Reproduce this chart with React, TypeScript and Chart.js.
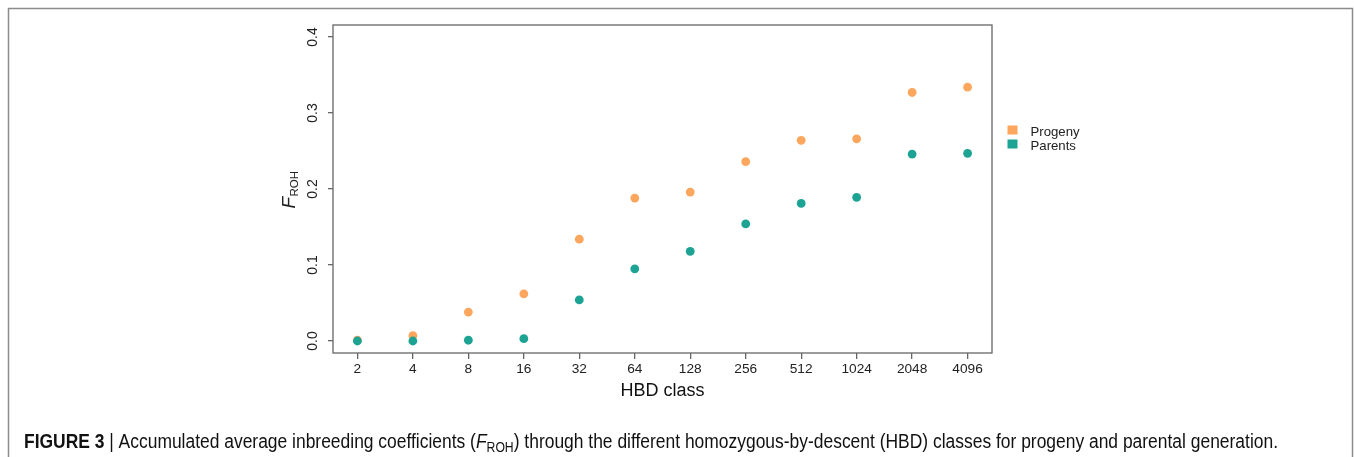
import React, { useEffect, useRef } from 'react';
import { Chart, registerables } from 'chart.js';

Chart.register(...registerables);

// ---- data ----
const hbdClasses = ['2', '4', '8', '16', '32', '64', '128', '256', '512', '1024', '2048', '4096'];
const progeny = [0.001, 0.007, 0.038, 0.062, 0.134, 0.188, 0.196, 0.236, 0.264, 0.266, 0.327, 0.334];
const parents = [0.0, 0.0, 0.001, 0.003, 0.054, 0.095, 0.118, 0.154, 0.181, 0.189, 0.246, 0.247];
const yTicks = [0, 0.1, 0.2, 0.3, 0.4];
const seriesNames = ['Progeny', 'Parents'];
const seriesColors = ['#FDA65D', '#1DA393'];
const xTitle = 'HBD class';
const captionBold = 'FIGURE 3';
const captionA = 'Accumulated average inbreeding coefficients (';
const captionB = ') through the different homozygous-by-descent (HBD) classes for progeny and parental generation.';

const W = 1354;
const H = 457;
const SANS = '"Liberation Sans", Arial, Helvetica, sans-serif';
const NARROW = '"Liberation Sans Narrow", "Liberation Sans", Arial, sans-serif';

const decorPlugin = {
  id: 'decor',
  afterDraw(chart: any) {
    const ctx = chart.ctx as CanvasRenderingContext2D;
    const ca = chart.chartArea;
    const ys = chart.scales.y;
    ctx.save();

    // plot frame
    ctx.strokeStyle = '#666';
    ctx.lineWidth = 1.3;
    ctx.strokeRect(ca.left, ca.top, ca.right - ca.left, ca.bottom - ca.top);

    // y tick labels (rotated, R style)
    ctx.fillStyle = '#222';
    ctx.font = `14px ${SANS}`;
    ctx.textAlign = 'center';
    ctx.textBaseline = 'alphabetic';
    yTicks.forEach((v) => {
      const py = ys.getPixelForValue(v);
      ctx.save();
      ctx.translate(ca.left - 16.3, py);
      ctx.rotate(-Math.PI / 2);
      ctx.fillText(v.toFixed(1), 0, 0);
      ctx.restore();
    });

    // y title F_ROH
    {
      const cy = (ca.top + ca.bottom) / 2 + 1;
      ctx.save();
      ctx.translate(ca.left - 38, cy);
      ctx.rotate(-Math.PI / 2);
      ctx.textAlign = 'left';
      ctx.font = `italic 19px ${SANS}`;
      const wF = ctx.measureText('F').width;
      ctx.font = `11.5px ${SANS}`;
      const wS = ctx.measureText('ROH').width;
      const start = -(wF + wS) / 2;
      ctx.font = `italic 19px ${SANS}`;
      ctx.fillText('F', start, 0);
      ctx.font = `11.5px ${SANS}`;
      ctx.fillText('ROH', start + wF + 0.5, 3);
      ctx.restore();
    }

    // x title
    ctx.font = `18px ${SANS}`;
    ctx.textAlign = 'center';
    ctx.fillStyle = '#111';
    ctx.fillText(xTitle, (ca.left + ca.right) / 2, 395.5);

    // legend
    ctx.font = `13.2px ${SANS}`;
    ctx.textAlign = 'left';
    seriesNames.forEach((name, i) => {
      const baseY = 135.5 + i * 14;
      ctx.fillStyle = seriesColors[i];
      ctx.fillRect(1007.5, baseY - 10, 10, 9);
      ctx.fillStyle = '#222';
      ctx.fillText(name, 1030.5, baseY);
    });

    // figure border
    ctx.strokeStyle = '#8c8c8c';
    ctx.lineWidth = 1.5;
    ctx.strokeRect(8.5, 8.5, 1344, 470);

    // caption
    {
      const baseY = 448;
      const parts: { t: string; f: string; dy: number }[] = [
        { t: captionBold, f: `bold 20px ${NARROW}`, dy: 0 },
        { t: ' | ', f: `20px ${NARROW}`, dy: 0 },
        { t: captionA, f: `20px ${NARROW}`, dy: 0 },
        { t: 'F', f: `italic 20px ${NARROW}`, dy: 0 },
        { t: 'ROH', f: `14px ${NARROW}`, dy: 4 },
        { t: captionB, f: `20px ${NARROW}`, dy: 0 },
      ];
      let total = 0;
      const widths = parts.map((p) => {
        ctx.font = p.f;
        const w = ctx.measureText(p.t).width;
        total += w;
        return w;
      });
      const x0 = 24;
      const x1 = 1278;
      const sx = (x1 - x0) / total;
      ctx.save();
      ctx.translate(x0, baseY);
      ctx.scale(sx, 1);
      ctx.fillStyle = '#111';
      ctx.textAlign = 'left';
      let x = 0;
      parts.forEach((p, i) => {
        ctx.font = p.f;
        ctx.fillText(p.t, x, p.dy);
        x += widths[i];
      });
      ctx.restore();
    }

    ctx.restore();
  },
};

export default function App() {
  const ref = useRef<HTMLCanvasElement | null>(null);

  useEffect(() => {
    document.body.style.margin = '0';
    const canvas = ref.current;
    if (!canvas) return;
    const chart = new Chart(canvas, {
      type: 'scatter',
      data: {
        datasets: [
          {
            label: seriesNames[0],
            data: progeny.map((v, i) => ({ x: i, y: v })),
            backgroundColor: seriesColors[0],
            borderColor: seriesColors[0],
            pointRadius: 4.4,
            pointBorderWidth: 0,
            order: 2,
          },
          {
            label: seriesNames[1],
            data: parents.map((v, i) => ({ x: i, y: v })),
            backgroundColor: seriesColors[1],
            borderColor: seriesColors[1],
            pointRadius: 4.4,
            pointBorderWidth: 0,
            order: 1,
          },
        ],
      },
      options: {
        responsive: false,
        animation: false,
        devicePixelRatio: 1,
        layout: { padding: { left: 293, right: 362, top: 25, bottom: 64 } },
        plugins: {
          legend: { display: false },
          tooltip: { enabled: false },
        },
        scales: {
          x: {
            type: 'linear',
            min: -0.44,
            max: hbdClasses.length - 1 + 0.44,
            afterBuildTicks: (scale: any) => {
              scale.ticks = hbdClasses.map((_, i) => ({ value: i }));
            },
            afterFit: (scale: any) => {
              scale.height = 40;
            },
            ticks: {
              autoSkip: false,
              maxRotation: 0,
              minRotation: 0,
              padding: 2,
              color: '#222',
              font: { family: SANS, size: 13.7 },
              callback: (v: any) => hbdClasses[Math.round(Number(v))] ?? '',
            },
            grid: {
              drawOnChartArea: false,
              drawTicks: true,
              tickLength: 6,
              color: '#666',
              lineWidth: 1.3,
            },
            border: { display: false },
          },
          y: {
            type: 'linear',
            min: -0.0158,
            max: 0.4158,
            afterBuildTicks: (scale: any) => {
              scale.ticks = yTicks.map((v) => ({ value: v }));
            },
            afterFit: (scale: any) => {
              scale.width = 40;
            },
            ticks: { display: false },
            grid: {
              drawOnChartArea: false,
              drawTicks: true,
              tickLength: 5,
              color: '#666',
              lineWidth: 1.3,
            },
            border: { display: false },
          },
        },
      },
      plugins: [decorPlugin],
    } as any);
    return () => chart.destroy();
  }, []);

  return (
    <div style={{ position: 'absolute', left: 0, top: 0, width: W, height: H, background: '#fff' }}>
      <canvas ref={ref} width={W} height={H} style={{ display: 'block', width: W, height: H }} />
    </div>
  );
}
